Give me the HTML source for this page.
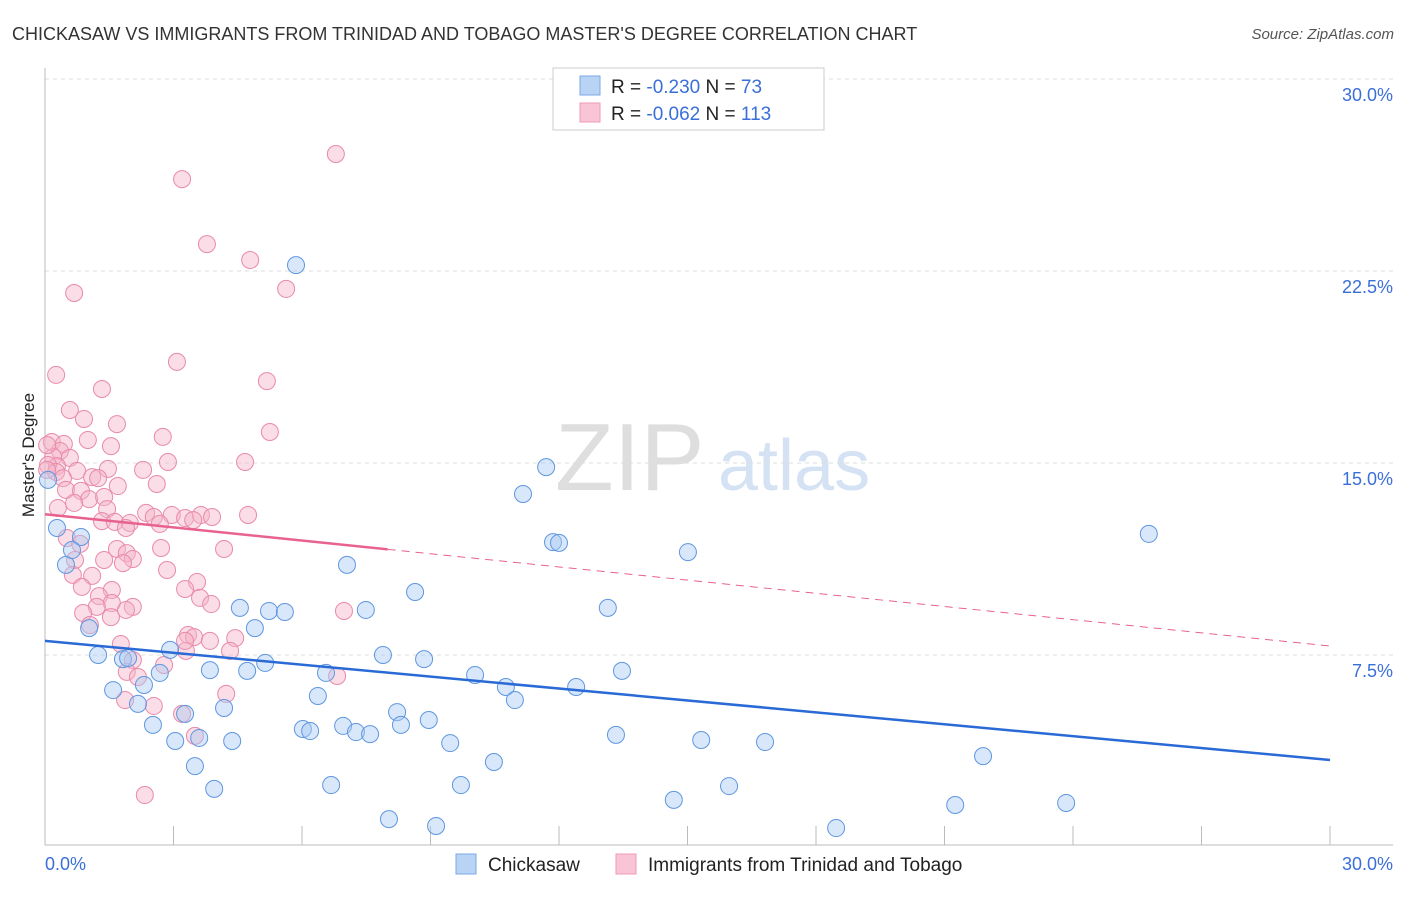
<!DOCTYPE html>
<html><head><meta charset="utf-8"><style>
body{margin:0;background:#fff;font-family:"Liberation Sans",sans-serif;}
svg text{font-family:"Liberation Sans",sans-serif;}
</style></head><body>
<svg id="chart" width="1406" height="892">
<text x="12" y="40" font-size="18" fill="#333">CHICKASAW VS IMMIGRANTS FROM TRINIDAD AND TOBAGO MASTER'S DEGREE CORRELATION CHART</text>
<text x="1394" y="39" font-size="15" fill="#555" font-style="italic" text-anchor="end">Source: ZipAtlas.com</text>
<text x="555" y="490" font-size="96" fill="#dedede" font-family="Liberation Serif,serif">ZIP</text>
<text x="718" y="490" font-size="72" fill="#d4e2f4">atlas</text>
<text transform="translate(34,455) rotate(-90)" font-size="17" fill="#222" text-anchor="middle">Master's Degree</text>
<g id="grid"></g><g id="ticks"></g><g id="pink"></g><g id="blue"></g><g id="lines"></g>
<g>
<rect x="553" y="68" width="271" height="62" fill="#fff" stroke="#ccc"/>
<rect x="580" y="76" width="20" height="19" fill="#b9d3f5" stroke="#7aa8e6"/>
<rect x="580" y="103" width="20" height="19" fill="#f9c5d6" stroke="#ee9ab7"/>
<text x="611" y="93" font-size="19" fill="#222">R = <tspan fill="#3a6fd8">-0.230</tspan>   N = <tspan fill="#3a6fd8"> 73</tspan></text>
<text x="611" y="120" font-size="19" fill="#222">R = <tspan fill="#3a6fd8">-0.062</tspan>   N = <tspan fill="#3a6fd8">113</tspan></text>
</g>
<g>
<rect x="456" y="854" width="20" height="20" fill="#b9d3f5" stroke="#7aa8e6"/>
<text x="488" y="871" font-size="19" fill="#222">Chickasaw</text>
<rect x="616" y="854" width="20" height="20" fill="#f9c5d6" stroke="#ee9ab7"/>
<text x="648" y="871" font-size="19" fill="#222">Immigrants from Trinidad and Tobago</text>
</g>
</svg>
<script>
const yTicks=[7.5,15,22.5,30];
const yTickLabels=["7.5%","15.0%","22.5%","30.0%"];
const xTickLabels=["0.0%","30.0%"];
const bluePx=[[296,265],[546,467],[523,494],[1149,534],[553,542],[559,543],[688,552],[57,528],[81,537],[66,565],[72,550],[347,565],[415,592],[240,608],[269,611],[285,612],[366,610],[608,608],[89,628],[255,628],[170,650],[98,655],[123,659],[128,658],[383,655],[424,659],[622,671],[210,670],[247,671],[265,663],[326,673],[475,675],[160,673],[506,687],[576,687],[113,690],[144,685],[318,696],[515,700],[138,704],[224,708],[397,712],[185,714],[153,725],[303,729],[310,731],[343,726],[356,732],[370,734],[401,725],[429,720],[616,735],[701,740],[765,742],[175,741],[199,738],[232,741],[450,743],[983,756],[494,762],[195,766],[331,785],[461,785],[729,786],[214,789],[674,800],[955,805],[1066,803],[389,819],[436,826],[836,828],[48,480]];
const pinkPx=[[336,154],[182,179],[207,244],[250,260],[286,289],[74,293],[177,362],[56,375],[267,381],[102,389],[70,410],[84,419],[117,424],[270,432],[163,437],[88,440],[52,442],[64,444],[111,446],[60,451],[53,457],[70,458],[168,462],[245,462],[57,466],[48,465],[143,470],[108,469],[77,471],[56,472],[63,478],[92,477],[98,478],[157,484],[66,490],[81,491],[118,486],[89,499],[104,497],[74,503],[58,508],[107,509],[146,513],[172,515],[185,518],[201,515],[212,517],[248,515],[154,517],[193,520],[102,521],[115,522],[130,523],[160,524],[126,528],[67,538],[80,544],[117,549],[161,548],[224,549],[75,560],[127,553],[133,559],[104,560],[123,563],[167,570],[92,576],[73,575],[197,582],[82,587],[112,590],[99,596],[185,589],[200,598],[211,604],[133,607],[112,603],[97,607],[126,610],[83,613],[344,611],[111,617],[90,625],[188,635],[194,637],[235,638],[210,641],[121,644],[230,651],[186,651],[133,660],[164,665],[127,672],[138,677],[337,676],[226,694],[125,700],[154,706],[182,714],[195,736],[145,795],[185,641],[47,445],[47,470]];
const X0=45,X1=1330,Y0=847,PPY=25.6;
const xs=v=>X0+v/30*(X1-X0), ys=v=>Y0-v*PPY;
// data values (percent)
const blueX=bluePx.map(p=>+((p[0]-X0)/(X1-X0)*30).toFixed(2));
const blueY=bluePx.map(p=>+((Y0-p[1])/PPY).toFixed(2));
const pinkX=pinkPx.map(p=>+((p[0]-X0)/(X1-X0)*30).toFixed(2));
const pinkY=pinkPx.map(p=>+((Y0-p[1])/PPY).toFixed(2));
const blueTrend=[8.05,3.4];
const pinkTrend=[13.0,7.85];
const NS="http://www.w3.org/2000/svg";
function mk(tag,attrs,parent){const e=document.createElementNS(NS,tag);for(const k in attrs)e.setAttribute(k,attrs[k]);parent.appendChild(e);return e;}
const grid=document.getElementById('grid'),ticks=document.getElementById('ticks');
yTicks.forEach((t,i)=>{
 const l=mk('line',{x1:45,x2:1393,y1:ys(t),y2:ys(t),stroke:'#ddd','stroke-dasharray':'4,4'},grid);
 
 
 const tx=mk('text',{x:1393,y:ys(t)+22,'font-size':18,fill:'#3a6fd8','text-anchor':'end'},ticks);
 tx.textContent=yTickLabels[i];
 
 
});
const ax=mk('line',{x1:45,x2:45,y1:68,y2:845,stroke:'#bbb'},ticks);


const bx=mk('line',{x1:45,x2:1393,y1:845,y2:845,stroke:'#bbb'},ticks);


for(let i=1;i<=10;i++){const t=mk('line',{x1:xs(i*3),x2:xs(i*3),y1:826,y2:845,stroke:'#bbb'},ticks);
 
 }
[[0,45,'start'],[1,1393,'end']].forEach(a=>{const t=mk('text',{x:a[1],y:870,'font-size':18,fill:'#3a6fd8','text-anchor':a[2]},ticks);t.textContent=xTickLabels[a[0]];
 
 });
function dots(X,Y,g,fill,stroke,name){X.forEach((x,i)=>{const c=mk('circle',{cx:xs(x),cy:ys(Y[i]),r:8.5,fill:fill,'fill-opacity':0.45,stroke:stroke,'stroke-width':1},g);
 
 });}
dots(pinkX,pinkY,document.getElementById('pink'),'#f5b3c8','#e98aab','pink-point');
dots(blueX,blueY,document.getElementById('blue'),'#a9c9f2','#5f97e0','blue-point');
const L=document.getElementById('lines');
const bl=mk('line',{x1:xs(0),y1:ys(blueTrend[0]),x2:xs(30),y2:ys(blueTrend[1]),stroke:'#2a6ad6','stroke-width':2.5},L);


const pm=v=>pinkTrend[0]+(pinkTrend[1]-pinkTrend[0])*v/30;
const pl=mk('line',{x1:xs(0),y1:ys(pm(0)),x2:xs(8),y2:ys(pm(8)),stroke:'#e8628f','stroke-width':2.5},L);


const pd=mk('line',{x1:xs(8),y1:ys(pm(8)),x2:xs(30),y2:ys(pm(30)),stroke:'#e8628f','stroke-width':1,'stroke-dasharray':'8,6'},L);


</script>
</body></html>
